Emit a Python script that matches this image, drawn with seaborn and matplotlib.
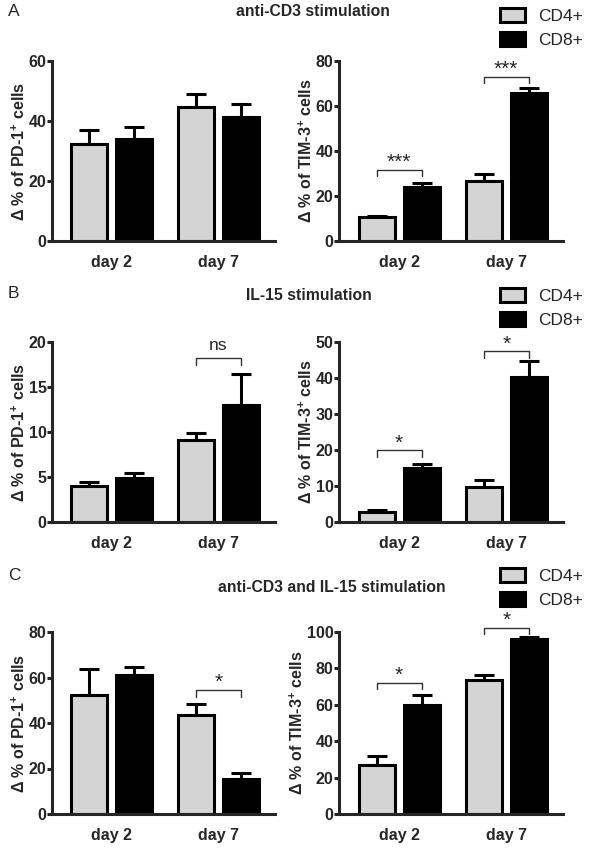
import pandas as pd
import matplotlib
matplotlib.use("Agg")
import matplotlib.pyplot as plt
import seaborn as sns
from matplotlib.patches import Patch

# -------------------------------
# Data
# -------------------------------
days = ["day 2", "day 7"]
cells = ["CD4+", "CD8+"]
titles = ["anti-CD3 stimulation", "IL-15 stimulation", "anti-CD3 and IL-15 stimulation"]
letters = ["A", "B", "C"]

# rows: CD4+, CD8+ ; columns: day 2, day 7
pd1_mean_a = [[32.3, 44.8], [33.9, 41.4]]
pd1_sem_a = [[4.7, 4.1], [4.0, 4.2]]
tim3_mean_a = [[10.5, 26.8], [24.0, 66.0]]
tim3_sem_a = [[0.7, 3.1], [2.0, 1.9]]

pd1_mean_b = [[4.0, 9.1], [4.9, 13.0]]
pd1_sem_b = [[0.4, 0.75], [0.6, 3.4]]
tim3_mean_b = [[2.75, 9.8], [15.1, 40.4]]
tim3_sem_b = [[0.55, 2.0], [1.0, 4.2]]

pd1_mean_c = [[52.3, 43.5], [61.1, 15.2]]
pd1_sem_c = [[11.3, 4.9], [3.4, 3.0]]
tim3_mean_c = [[26.9, 73.7], [59.8, 96.3]]
tim3_sem_c = [[5.0, 2.8], [5.4, 0.7]]

# significance brackets: (day index, label, bracket height)
sig_pd1_a = []
sig_tim3_a = [(0, "***", 31.7), (1, "***", 73.1)]
sig_pd1_b = [(1, "ns", 18.2)]
sig_tim3_b = [(0, "*", 19.9), (1, "*", 47.4)]
sig_pd1_c = [(1, "*", 54.5)]
sig_tim3_c = [(0, "*", 72.2), (1, "*", 102.4)]

ylims = [(60, 20), (80, 20), (20, 5), (50, 10), (80, 20), (100, 20)]

# -------------------------------
# Style
# -------------------------------
sns.set_style("ticks")
plt.rcParams["font.family"] = ["Liberation Sans", "DejaVu Sans"]
plt.rcParams["mathtext.default"] = "regular"

GRAY = "#d4d4d4"
LW = 2.2
W, H = 590, 848

fig = plt.figure(figsize=(W / 100, H / 100), dpi=100)


def make_axes(x0, x1, y0, y1):
    return fig.add_axes([x0 / W, 1 - y1 / H, (x1 - x0) / W, (y1 - y0) / H])


def draw_panel(ax, mean, sem, sig, ylab, ymax, ystep):
    df = pd.DataFrame({
        "day": days * 2,
        "cell": [c for c in cells for _ in days],
        "value": mean[0] + mean[1],
    })
    sns.barplot(data=df, x="day", y="value", hue="cell", palette=[GRAY, "black"],
                edgecolor="black", linewidth=LW, width=0.84, gap=0.2,
                errorbar=None, legend=False, ax=ax)
    # patches come hue-major: CD4 d2, CD4 d7, CD8 d2, CD8 d7
    xs = [p.get_x() + p.get_width() / 2 for p in ax.patches[:4]]
    ax.errorbar(xs, mean[0] + mean[1], yerr=[[0] * 4, sem[0] + sem[1]],
                fmt="none", ecolor="black", elinewidth=LW, capsize=7,
                capthick=LW, zorder=0.5)
    drop = 0.037 * ymax
    for day_i, label, yb in sig:
        x1, x2 = xs[day_i], xs[day_i + 2]
        ax.plot([x1, x1, x2, x2], [yb - drop, yb, yb, yb - drop],
                color="#333333", lw=1, clip_on=False)
        if label == "ns":
            ax.annotate(label, ((x1 + x2) / 2, yb), xytext=(0, 3.5),
                        textcoords="offset points", ha="center", va="bottom",
                        fontsize=12.5, annotation_clip=False)
        else:
            ax.annotate(label, ((x1 + x2) / 2, yb), xytext=(0, -1.5),
                        textcoords="offset points", ha="center", va="bottom",
                        fontsize=15, annotation_clip=False)

    ax.set_xlim(-0.56, 1.53)
    ax.set_ylim(0, ymax)
    ax.set_yticks(range(0, ymax + 1, ystep))
    ax.set_xlabel("")
    ax.set_ylabel(ylab, fontsize=11.5, fontweight="bold", labelpad=0.5)
    sns.despine(ax=ax)
    for s in ["left", "bottom"]:
        ax.spines[s].set_linewidth(LW)
    ax.tick_params(axis="y", width=LW, length=3.3, pad=0.5, labelsize=11.5)
    ax.tick_params(axis="x", length=0, pad=10, labelsize=11.5)
    for t in ax.get_xticklabels() + ax.get_yticklabels():
        t.set_fontweight("bold")


pd1_label = "Δ % of PD-1$^{+}$ cells"
tim3_label = "Δ % of TIM-3$^{+}$ cells"

rows = [
    (61, 241, pd1_mean_a, pd1_sem_a, sig_pd1_a, tim3_mean_a, tim3_sem_a, sig_tim3_a),
    (342, 522, pd1_mean_b, pd1_sem_b, sig_pd1_b, tim3_mean_b, tim3_sem_b, sig_tim3_b),
    (632, 814, pd1_mean_c, pd1_sem_c, sig_pd1_c, tim3_mean_c, tim3_sem_c, sig_tim3_c),
]
title_pos = [(313, 12), (309, 295), (332, 588)]
letter_y = [12, 293, 575]
legend_top = [11, 291, 571]

for i, (y0, y1, m1, s1, g1, m2, s2, g2) in enumerate(rows):
    ax_l = make_axes(52, 275, y0, y1)
    ax_r = make_axes(339, 563, y0, y1)
    draw_panel(ax_l, m1, s1, g1, pd1_label, *ylims[2 * i])
    draw_panel(ax_r, m2, s2, g2, tim3_label, *ylims[2 * i + 1])

    tx, ty = title_pos[i]
    fig.text(tx / W, 1 - ty / H, titles[i], ha="center", va="center",
             fontsize=11.3, fontweight="bold")
    fig.text(8 / W, 1 - letter_y[i] / H, letters[i], ha="left", va="center", fontsize=12.5)

    handles = [Patch(facecolor=GRAY, edgecolor="black", linewidth=LW),
               Patch(facecolor="black", edgecolor="black", linewidth=LW)]
    fig.legend(handles, cells, loc="upper left",
               bbox_to_anchor=(500 / W, 1 - (legend_top[i] - 3) / H),
               frameon=False, fontsize=12.5, handlelength=1.45, handleheight=0.85,
               handletextpad=0.75, labelspacing=0.45, borderpad=0, borderaxespad=0)

fig.savefig("out.png", dpi=100)
